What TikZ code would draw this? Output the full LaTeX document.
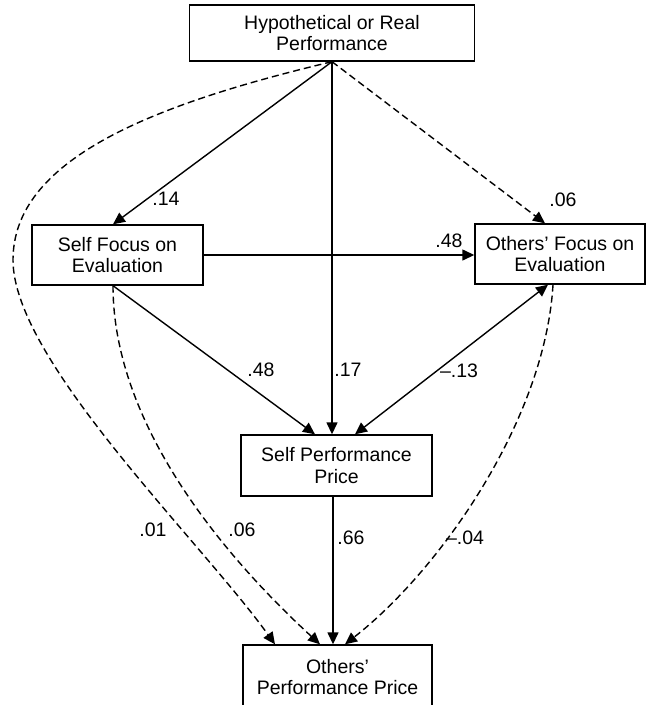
\documentclass[tikz,border=0pt]{standalone}
\usepackage{fontspec}
\setmainfont{Liberation Sans}
\usetikzlibrary{arrows.meta}
\begin{document}
\begin{tikzpicture}[x=1pt,y=-1pt,
  box/.style={draw,line width=1.4pt,minimum height=56pt,inner sep=0pt,align=center,
    font=\fontsize{19.5}{21.5}\selectfont},
  lab/.style={inner sep=0pt,font=\fontsize{19.5}{21.5}\selectfont},
  arr/.style={line width=1.4pt,-{Triangle[length=12pt,width=11pt]}},
  darr/.style={arr,dash pattern=on 7pt off 4pt}]
\useasboundingbox (0,0) rectangle (648,705);
\node[box,minimum width=285pt] (top) at (332,33) {Hypothetical or Real\\Performance};
\node[box,minimum width=171pt,minimum height=60pt] (sf) at (117.5,255) {Self Focus on\\Evaluation};
\node[box,minimum width=170pt,minimum height=60pt] (of) at (560,254) {Others' Focus on\\Evaluation};
\node[box,minimum width=191pt,minimum height=61pt] (sp) at (336.5,465.5) {Self Performance\\Price};
\node[box,minimum width=189pt,minimum height=64pt] (op) at (337.5,677) {Others'\\Performance Price};
% solid arrows
\draw[arr] (top.south) -- ([xshift=-4.5pt]sf.north);
\draw[arr] (top.south) -- (top.south |- sp.north);
\draw[arr] (sf.east) -- (sf.east -| of.west);
\draw[arr] ([xshift=-4.5pt]sf.south) -- ([xshift=-21.5pt]sp.north);
\draw[arr,{Triangle[length=12pt,width=11pt]}-{Triangle[length=12pt,width=11pt]}] ([xshift=-12pt]of.south) -- ([xshift=18.5pt]sp.north);
\draw[arr] ([xshift=-3.5pt]sp.south) -- ([xshift=-3.5pt]sp.south |- op.north);
% dashed arrows
\draw[darr] (top.south) -- ([xshift=-15pt]of.north);
\coordinate (leftmost) at (13,260);
\draw[darr] (top.south) .. controls (150,105) and (13,160) .. (leftmost)
  .. controls (13,360) and (200,540) .. ([xshift=-62.5pt]op.north);
\draw[darr] ([xshift=-4.5pt]sf.south) .. controls (113,440) and (250,580) .. ([xshift=-17.5pt]op.north);
\draw[darr] ([xshift=-7pt]of.south) .. controls (545,420) and (440,570) .. ([xshift=7.5pt]op.north);
% labels
\node[lab] (l14) at (166,199) {.14};
\node[lab] (l06a) at (563,200) {.06};
\node[lab] (l48a) at (449,241) {.48};
\node[lab] (l48b) at (261,370) {.48};
\node[lab] (l17) at (348,370) {.17};
\node[lab] (l13) at (459,371) {--.13};
\node[lab] (l01) at (153,530) {.01};
\node[lab] (l06b) at (242,530) {.06};
\node[lab] (l66) at (351,538) {.66};
\node[lab] (l04) at (465,538) {--.04};
\end{tikzpicture}
\end{document}
